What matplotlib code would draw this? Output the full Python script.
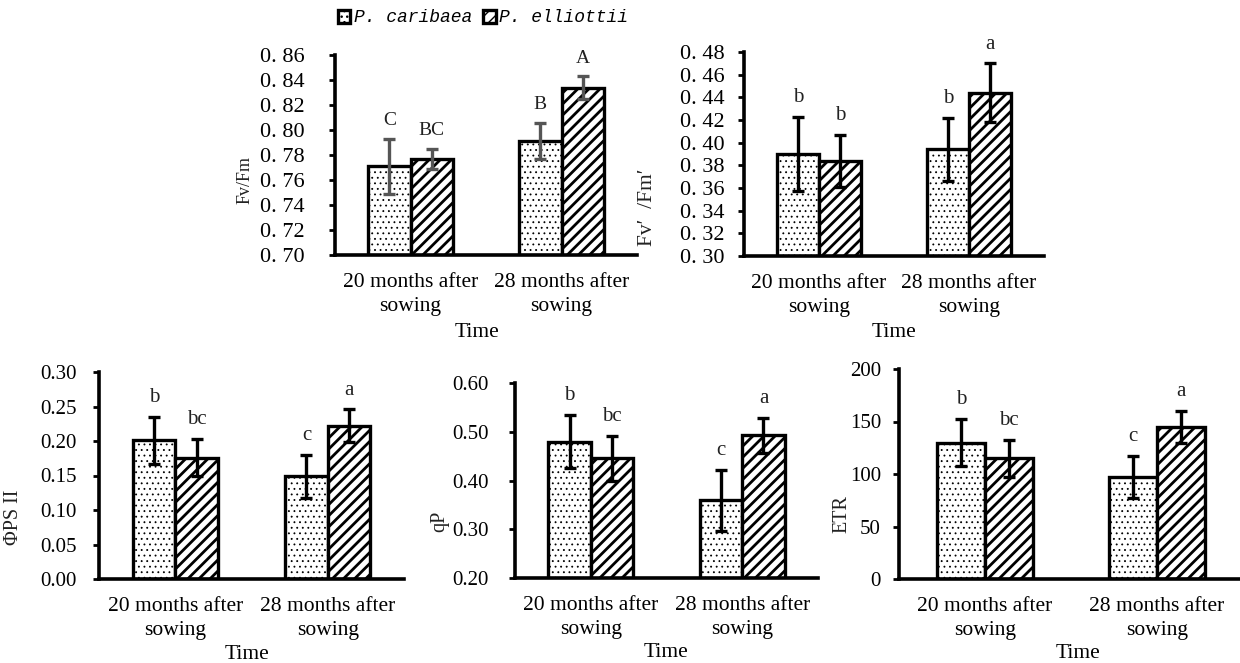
import matplotlib
matplotlib.use('Agg')
import matplotlib.pyplot as plt
import numpy as np

plt.rcParams['font.family'] = ['Liberation Serif', 'DejaVu Serif']

categories = ['20 months after\nsowing', '28 months after\nsowing']
species = ['P. caribaea', 'P. elliottii']

# Fv/Fm
fvfm_car = [0.771, 0.791]
fvfm_car_err = [0.022, 0.0145]
fvfm_ell = [0.777, 0.834]
fvfm_ell_err = [0.008, 0.009]
fvfm_car_lab = ['C', 'B']
fvfm_ell_lab = ['BC', 'A']

# Fv'/Fm'
fvp_car = [0.390, 0.394]
fvp_car_err = [0.033, 0.028]
fvp_ell = [0.384, 0.444]
fvp_ell_err = [0.023, 0.026]
fvp_car_lab = ['b', 'b']
fvp_ell_lab = ['b', 'a']

# PhiPSII
phi_car = [0.201, 0.149]
phi_car_err = [0.034, 0.031]
phi_ell = [0.176, 0.222]
phi_ell_err = [0.027, 0.024]
phi_car_lab = ['b', 'c']
phi_ell_lab = ['bc', 'a']

# qP
qp_car = [0.480, 0.359]
qp_car_err = [0.055, 0.063]
qp_ell = [0.446, 0.493]
qp_ell_err = [0.046, 0.036]
qp_car_lab = ['b', 'c']
qp_ell_lab = ['bc', 'a']

# ETR
etr_car = [130, 97.5]
etr_car_err = [22.5, 20]
etr_ell = [115, 145]
etr_ell_err = [17.5, 15.3]
etr_car_lab = ['b', 'c']
etr_ell_lab = ['bc', 'a']

W, H = 1240, 663
fig = plt.figure(figsize=(12.4, 6.63), dpi=100)


def px_axes(x0, x1, ybot, ytop):
    return fig.add_axes([x0 / W, 1 - ybot / H, (x1 - x0) / W, (ybot - ytop) / H])


def hatched_bar(ax, x, vals, w, hatch, lw, label):
    # hatch line width is taken when the patch is made
    with plt.rc_context({'hatch.linewidth': lw}):
        bars = ax.bar(x, vals, w, color='white', edgecolor='black',
                      linewidth=2.4, hatch=hatch, label=label)
    for b in bars:
        if hasattr(b, 'set_hatch_linewidth'):
            b.set_hatch_linewidth(lw)
    return bars


def draw_panel(ax, car, car_err, ell, ell_err, car_lab, ell_lab,
               ylim, step, fmt, ylabel, ylab_xy, xlab_y, ypad,
               errcolor='black', xlab_x=0.5, tick_size=15, ylab_size=14.5,
               let_size=15):
    x = np.arange(len(categories))
    w = 0.28
    b1 = hatched_bar(ax, x - w / 2, car, w, '...', 0.6, species[0])
    b2 = hatched_bar(ax, x + w / 2, ell, w, '///', 2.0, species[1])
    ax.errorbar(x - w / 2, car, yerr=car_err, fmt='none', ecolor=errcolor,
                elinewidth=2.4, capsize=4, capthick=2.4)
    ax.errorbar(x + w / 2, ell, yerr=ell_err, fmt='none', ecolor=errcolor,
                elinewidth=2.4, capsize=4, capthick=2.4)
    for xi, v, e, t in zip(x - w / 2, car, car_err, car_lab):
        ax.annotate(t, (xi, v + e), xytext=(0, 7), textcoords='offset points',
                    ha='center', va='bottom', fontsize=let_size, color='#222222')
    for xi, v, e, t in zip(x + w / 2, ell, ell_err, ell_lab):
        ax.annotate(t, (xi, v + e), xytext=(0, 7), textcoords='offset points',
                    ha='center', va='bottom', fontsize=let_size, color='#222222')
    ax.set_xlim(-0.5, 1.5)
    ax.set_ylim(*ylim)
    ticks = np.arange(ylim[0], ylim[1] + step / 2, step)
    ax.set_yticks(ticks)
    ax.set_yticklabels([fmt(t) for t in ticks], fontsize=tick_size)
    ax.set_xticks(x)
    ax.set_xticklabels(categories, fontsize=15.5, linespacing=1.35)
    ax.tick_params(axis='x', length=0, pad=13)
    ax.tick_params(axis='y', direction='out', length=4, width=2, pad=ypad)
    for s in ['top', 'right']:
        ax.spines[s].set_visible(False)
    for s in ['left', 'bottom']:
        ax.spines[s].set_linewidth(2.6)
    ax.set_ylabel(ylabel, fontsize=ylab_size, color='#222222')
    ax.yaxis.set_label_coords(*ylab_xy)
    ax.set_xlabel('Time', fontsize=15.5)
    ax.xaxis.set_label_coords(xlab_x, xlab_y)
    return b1, b2


def fmt_cn(t):
    return '0. %02d' % round(t * 100)


ax1 = px_axes(335, 637, 255, 55)
h = draw_panel(ax1, fvfm_car, fvfm_car_err, fvfm_ell, fvfm_ell_err,
               fvfm_car_lab, fvfm_ell_lab, (0.70, 0.86), 0.02, fmt_cn,
               'Fv/Fm', (-0.27, 0.375), -0.34, 18, errcolor='#555555',
               xlab_x=0.47, tick_size=16, ylab_size=13, let_size=14)

ax2 = px_axes(744, 1044, 256, 52)
draw_panel(ax2, fvp_car, fvp_car_err, fvp_ell, fvp_ell_err,
           fvp_car_lab, fvp_ell_lab, (0.30, 0.48), 0.02, fmt_cn,
           'Fv\u2032  /Fm\u2032 ', (-0.29, 0.25), -0.33, 10,
           tick_size=16, ylab_size=15.5, let_size=15)

ax3 = px_axes(99, 404, 579, 372)
draw_panel(ax3, phi_car, phi_car_err, phi_ell, phi_ell_err,
           phi_car_lab, phi_ell_lab, (0.0, 0.30), 0.05, lambda t: '%.2f' % t,
           '\u03a6PS II', (-0.249, 0.30), -0.317, 12, xlab_x=0.485)

ax4 = px_axes(515, 818, 578, 383)
draw_panel(ax4, qp_car, qp_car_err, qp_ell, qp_ell_err,
           qp_car_lab, qp_ell_lab, (0.20, 0.60), 0.10, lambda t: '%.2f' % t,
           'qP', (-0.218, 0.29), -0.333, 15)

ax5 = px_axes(899, 1243, 579, 369)
draw_panel(ax5, etr_car, etr_car_err, etr_ell, etr_ell_err,
           etr_car_lab, etr_ell_lab, (0, 200), 50, lambda t: '%d' % t,
           'ETR', (-0.137, 0.31), -0.308, 9, xlab_x=0.52)

fig.legend(h, species, loc='center', bbox_to_anchor=(483 / W, 1 - 18 / H),
           ncol=2, frameon=False, handlelength=0.7, handleheight=0.7,
           handletextpad=0.2, columnspacing=0.6,
           prop={'family': ['Liberation Mono', 'DejaVu Sans Mono'],
                 'style': 'italic', 'size': 13})

fig.savefig('out.png', dpi=100)
